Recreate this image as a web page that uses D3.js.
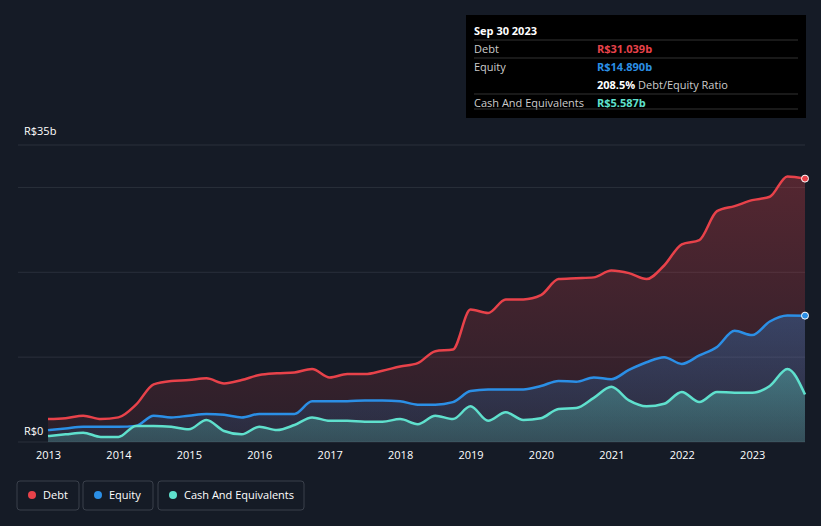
<!DOCTYPE html><html><head><script src="https://cdn.jsdelivr.net/npm/d3@7"></script>
<style>body{margin:0;background:#151b26;font-family:"Open Sans",sans-serif}</style></head><body><svg id="c" width="821" height="526"></svg>
<script>
const dates=[2013,2013.25,2013.5,2013.75,2014,2014.25,2014.5,2014.75,2015,2015.25,2015.5,2015.75,2016,2016.25,2016.5,2016.75,2017,2017.25,2017.5,2017.75,2018,2018.25,2018.5,2018.75,2019,2019.25,2019.5,2019.75,2020,2020.25,2020.5,2020.75,2021,2021.25,2021.5,2021.75,2022,2022.25,2022.5,2022.75,2023,2023.25,2023.5,2023.75];
const debt=[2.7,2.8,3.1,2.7,2.9,4.4,6.8,7.2,7.3,7.5,6.9,7.3,7.9,8.1,8.2,8.6,7.6,8.0,8.0,8.4,8.9,9.3,10.7,10.9,15.6,15.2,16.8,16.8,17.3,19.2,19.3,19.4,20.2,19.9,19.2,20.8,23.3,23.8,27.2,27.8,28.5,28.9,31.3,31.039];
const equity=[1.4,1.6,1.8,1.8,1.8,1.9,3.1,2.9,3.1,3.3,3.2,2.9,3.3,3.3,3.3,4.8,4.8,4.8,4.9,4.9,4.8,4.4,4.4,4.7,6.0,6.2,6.2,6.2,6.6,7.2,7.1,7.6,7.4,8.5,9.4,10.0,9.2,10.2,11.2,13.1,12.6,14.2,14.9,14.89];
const cash=[0.7,0.9,1.1,0.6,0.6,1.9,1.9,1.8,1.5,2.6,1.3,0.9,1.8,1.4,2.0,2.9,2.5,2.5,2.4,2.4,2.7,2.1,3.1,2.7,4.2,2.5,3.5,2.6,2.8,3.9,4.0,5.2,6.5,4.9,4.2,4.5,5.9,4.7,5.9,5.8,5.8,6.6,8.6,5.587];
const years=[2013,2014,2015,2016,2017,2018,2019,2020,2021,2022,2023];
const svg=d3.select("#c");
const x=d3.scaleLinear().domain([2013,2023.75]).range([48,805]);
const y=d3.scaleLinear().domain([0,35]).range([442,145]);
[0,10,20,30,35].forEach(v=>svg.append("line").attr("x1",18).attr("x2",805).attr("y1",y(v)).attr("y2",y(v)).attr("stroke","#2a303b").attr("stroke-width",1));
svg.append("text").attr("x",24).attr("y",135).attr("fill","#fff").attr("font-size",11).text("R$35b");
svg.append("text").attr("x",24).attr("y",435).attr("fill","#fff").attr("font-size",11).text("R$0");
const defs=svg.append("defs");
const series=[["Debt",debt,"#e8424a","#e8424a"],["Equity",equity,"#2b8fe6","#2b8fe6"],["Cash",cash,"#5fe0cd","#5fe0cd"]];
series.forEach(([n,d,c],i)=>{const g=defs.append("linearGradient").attr("id","g"+i).attr("x1",0).attr("x2",0).attr("y1",0).attr("y2",1);
g.append("stop").attr("offset","0%").attr("stop-color",c).attr("stop-opacity",i==2?0.35:0.3);g.append("stop").attr("offset","100%").attr("stop-color",c).attr("stop-opacity",i==2?0.2:0.1);});
series.forEach(([n,d,c],i)=>{
const pts=dates.map((t,j)=>[t,d[j]]);
svg.append("path").datum(pts).attr("d",d3.area().x(p=>x(p[0])).y0(y(0)).y1(p=>y(p[1])).curve(d3.curveMonotoneX)).attr("fill","url(#g"+i+")");
svg.append("path").datum(pts).attr("d",d3.line().x(p=>x(p[0])).y(p=>y(p[1])).curve(d3.curveMonotoneX)).attr("fill","none").attr("stroke",c).attr("stroke-width",2.5);
});
[[debt,"#e8424a"],[equity,"#2b8fe6"]].forEach(([d,c])=>svg.append("circle").attr("cx",x(2023.75)).attr("cy",y(d[d.length-1])).attr("r",3.5).attr("fill",c).attr("stroke","#fff").attr("stroke-width",1));
const ax=svg.append("g").attr("transform","translate(0,442)").call(d3.axisBottom(x).tickValues(years).tickFormat(d3.format("d")).tickSize(0).tickPadding(9));
ax.select(".domain").remove();ax.selectAll("text").attr("fill","#fff").attr("font-size",11).attr("font-family","Open Sans");
// tooltip
const tt=svg.append("g");
tt.append("rect").attr("x",466).attr("y",15).attr("width",340).attr("height",103).attr("fill","#000");
tt.append("text").attr("x",474).attr("y",35).attr("fill","#fff").attr("font-size",11).attr("font-weight","bold").text("Sep 30 2023");
const rows=[["Debt","R$31.039b","#e8424a",""],["Equity","R$14.890b","#2b8fe6",""],["","208.5%","#fff"," Debt/Equity Ratio"],["Cash And Equivalents","R$5.587b","#5fe0cd",""]];
rows.forEach((r,i)=>{const yy=53+i*18;
if(i!=2)tt.append("line").attr("x1",474).attr("x2",798).attr("y1",yy-13).attr("y2",yy-13).attr("stroke","#333");
tt.append("text").attr("x",474).attr("y",yy).attr("fill","#ccc").attr("font-size",11).text(r[0]);
const t=tt.append("text").attr("x",597).attr("y",yy).attr("font-size",11);
t.append("tspan").attr("fill",r[2]).attr("font-weight","bold").text(r[1]);t.append("tspan").attr("fill","#ccc").text(r[3]);});
tt.append("line").attr("x1",474).attr("x2",798).attr("y1",109).attr("y2",109).attr("stroke","#333");
// legend
const leg=[["Debt","#e8424a",17,62],["Equity","#2b8fe6",83,70],["Cash And Equivalents","#5fe0cd",158,146]];
leg.forEach(([n,c,lx,w])=>{svg.append("rect").attr("x",lx).attr("y",481).attr("width",w).attr("height",29).attr("rx",3).attr("fill","none").attr("stroke","#3a404b");
svg.append("circle").attr("cx",lx+15).attr("cy",495).attr("r",4).attr("fill",c);
svg.append("text").attr("x",lx+26).attr("y",499).attr("fill","#fff").attr("font-size",11).text(n);});
</script></body></html>
